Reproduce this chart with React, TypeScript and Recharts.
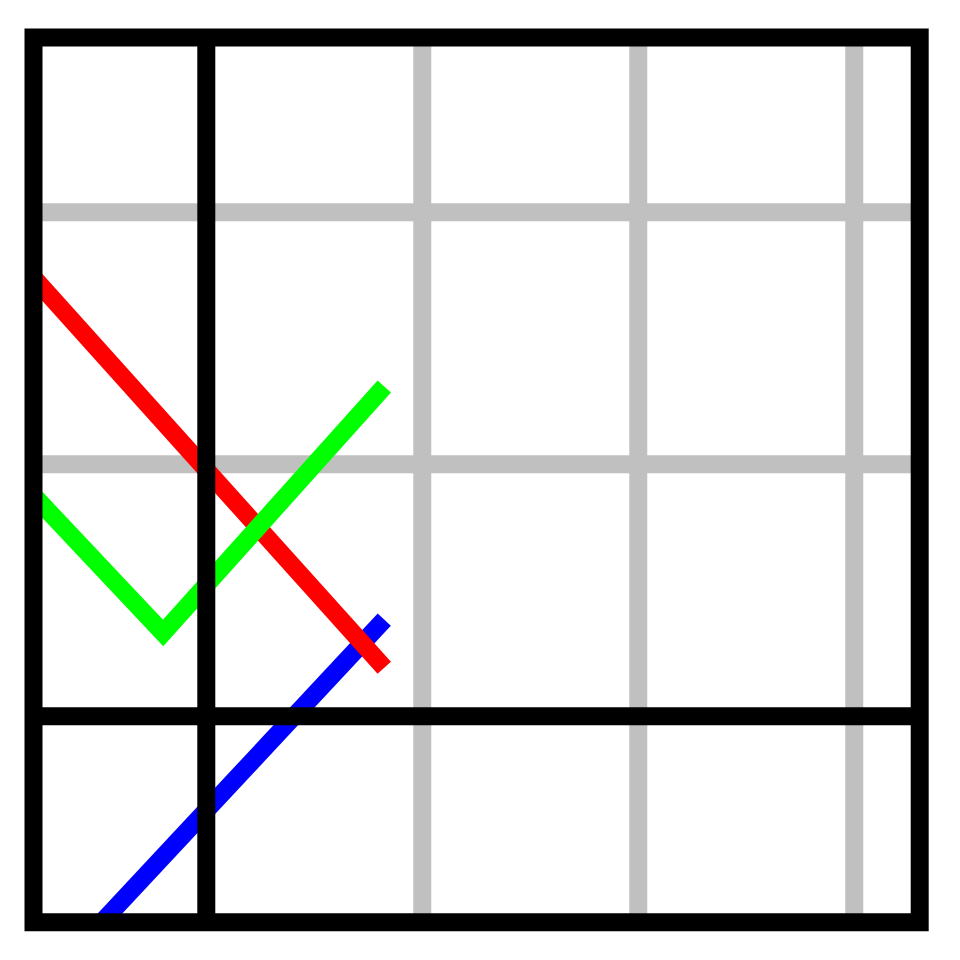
import React from "react";
import { LineChart, Line, XAxis, YAxis, ReferenceLine, ReferenceArea } from "recharts";

// Axis ranges and grid positions
const xDomain = [-0.8, 3.303];
const yDomain = [-0.818, 2.693];
const xGrid = [1, 2, 3];
const yGrid = [1, 2];

// Series values (x, y)
const redX = [-1, 0.824];
const redY = [1.931, 0.192];
const greenX = [-1, -0.2, 0.824];
const greenY = [1.058, 0.33, 1.308];
const blueX = [-1, 0.824];
const blueY = [-1.292, 0.383];

const toPoints = (xs: number[], ys: number[]) => xs.map((x, i) => ({ x, y: ys[i] }));

const redData = toPoints(redX, redY);
const greenData = toPoints(greenX, greenY);
const blueData = toPoints(blueX, blueY);

const W = 18;

export default function App() {
  return (
    <LineChart
      width={940}
      height={940}
      margin={{ top: 29.5, left: 25.5, right: 28.3, bottom: 25.7 }}
    >
      <XAxis type="number" dataKey="x" domain={xDomain} allowDataOverflow hide />
      <YAxis type="number" dataKey="y" domain={yDomain} allowDataOverflow hide />
      {xGrid.map((v) => (
        <ReferenceLine key={"gx" + v} x={v} stroke="#c0c0c0" strokeWidth={W} />
      ))}
      {yGrid.map((v) => (
        <ReferenceLine key={"gy" + v} y={v} stroke="#c0c0c0" strokeWidth={W} />
      ))}
      <Line data={blueData} dataKey="y" type="linear" stroke="#0000ff" strokeWidth={W} dot={false} activeDot={false} isAnimationActive={false} />
      <Line data={redData} dataKey="y" type="linear" stroke="#ff0000" strokeWidth={W} dot={false} activeDot={false} isAnimationActive={false} />
      <Line data={greenData} dataKey="y" type="linear" stroke="#00ff00" strokeWidth={W} dot={false} activeDot={false} isAnimationActive={false} />
      <ReferenceLine x={0} stroke="#000000" strokeWidth={W} zIndex={1000} />
      <ReferenceLine y={0} stroke="#000000" strokeWidth={W} zIndex={1000} />
      <ReferenceArea
        x1={xDomain[0]}
        x2={xDomain[1]}
        y1={yDomain[0]}
        y2={yDomain[1]}
        fill="none"
        fillOpacity={0}
        stroke="#000000"
        strokeWidth={W}
        strokeOpacity={1}
        zIndex={1001}
      />
    </LineChart>
  );
}
